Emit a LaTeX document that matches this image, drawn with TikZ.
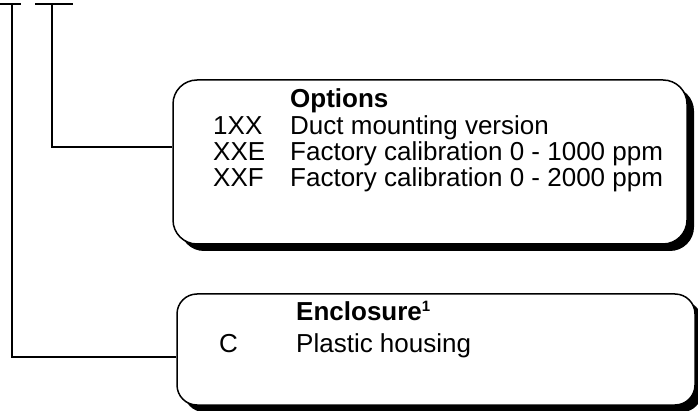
\documentclass[tikz,border=0pt]{standalone}
\usepackage{fontspec}
\setmainfont{Liberation Sans}
\usetikzlibrary{shadows}

\tikzset{
	codebox/.style={draw, line width=1.5pt, fill=white, rounded corners=#1,
		drop shadow={shadow xshift=7pt, shadow yshift=-7pt, fill=black, opacity=1}},
	wire/.style={line width=1.5pt},
	txt/.style={anchor=base west, inner sep=0pt, font=\fontsize{26}{28}\selectfont}
}

\begin{document}
\begin{tikzpicture}[x=1pt, y=-1pt]
			%%%%% START %%%%%
			\useasboundingbox (0, 0) rectangle (698, 411);
			
			\node[codebox=24pt, minimum width=514pt, minimum height=164pt] (opt) at (430, 162) {};
			\node[codebox=20pt, minimum width=518pt, minimum height=111pt] (encl) at (436, 349.5) {};
			
			\node[txt, font=\fontsize{26}{28}\selectfont\bfseries] (opthead) at (290, 108) {Options};
			\node[txt] (c1) at (213, 135) {1XX};
			\node[txt] (t1) at (290, 135) {Duct mounting version};
			\node[txt] (c2) at (213, 161) {XXE};
			\node[txt] (t2) at (290, 161) {Factory calibration 0 - 1000 ppm};
			\node[txt] (c3) at (213, 187) {XXF};
			\node[txt] (t3) at (290, 187) {Factory calibration 0 - 2000 ppm};
			
			\node[txt, font=\fontsize{26}{28}\selectfont\bfseries] (enclhead) at (296, 320) {Enclosure\raisebox{9pt}{\fontsize{15}{16}\selectfont 1}};
			\node[txt] (c4) at (219, 352) {C};
			\node[txt] (t4) at (296, 352) {Plastic housing};
			
			\coordinate (tbarA) at (12, 4);
			\coordinate (tbarB) at (52, 4);
			\draw[wire] (0, 4) -- (21, 4);
			\draw[wire] (35, 4) -- (73, 4);
			
			\draw[wire] (tbarB) |- (opt.west |- 0, 147);
			\draw[wire] (tbarA) |- (encl.west |- 0, 357);
			%%%%% END %%%%%
\end{tikzpicture}
\end{document}
